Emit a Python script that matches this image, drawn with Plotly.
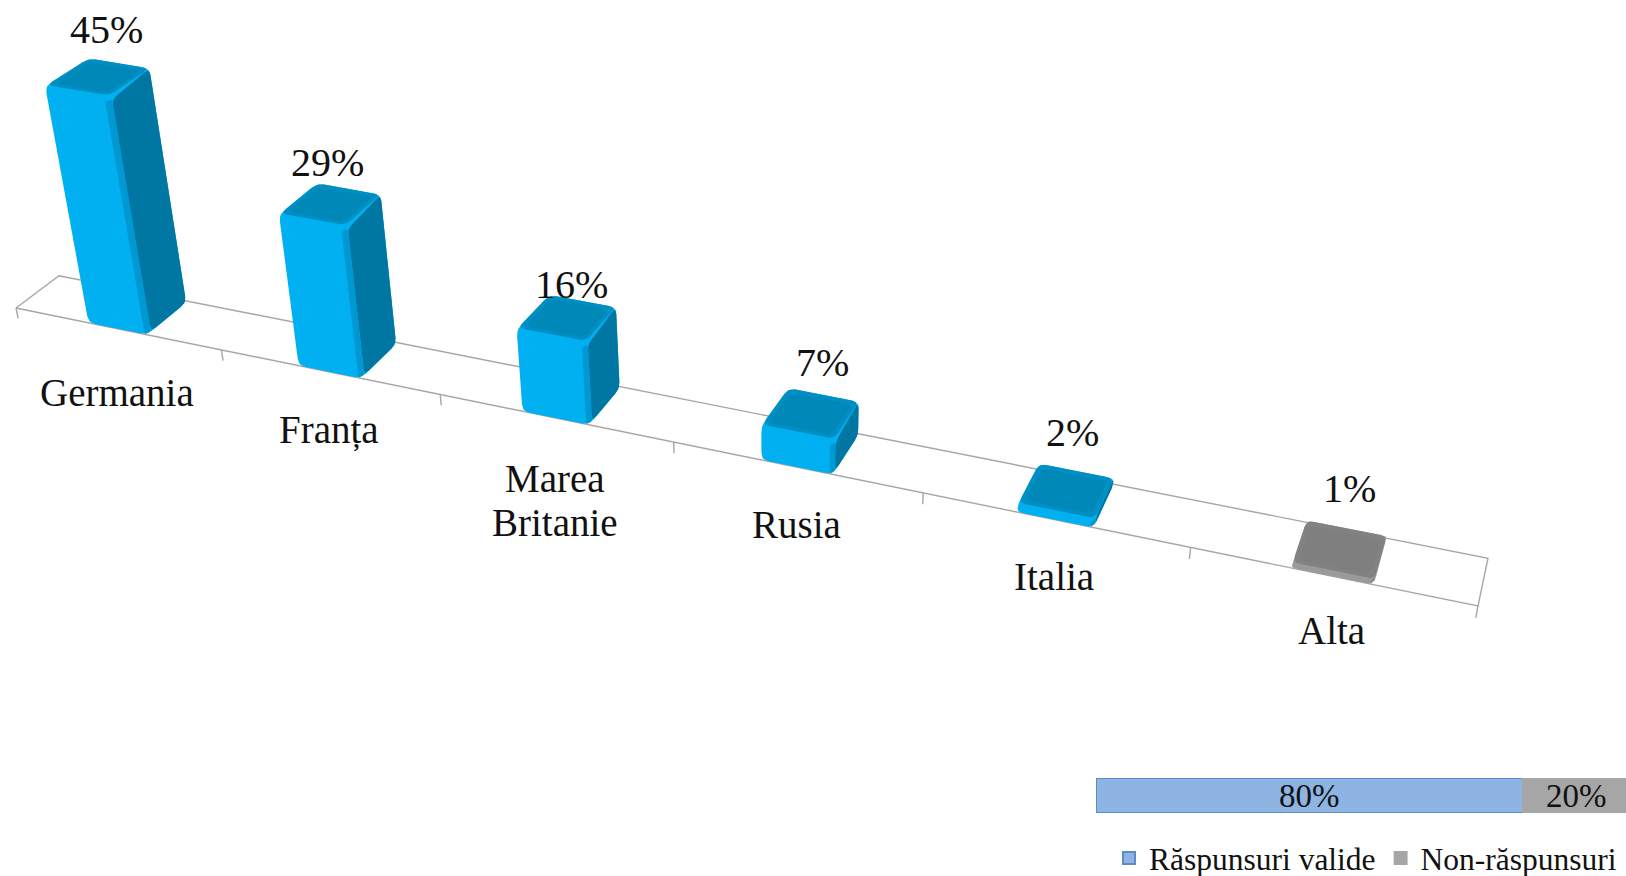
import numpy as np
import plotly.graph_objects as go

# ---------- data ----------
categories = ["Germania", "Franța", "Marea<br>Britanie", "Rusia", "Italia", "Alta"]
shares = [45, 29, 16, 7, 2, 1]
value_labels = ["45%", "29%", "16%", "7%", "2%", "1%"]
response_names = ["Răspunsuri valide", "Non-răspunsuri"]
response_shares = [80, 20]

# ---------- styles / layout ----------
FONT = "Liberation Serif"
W, H_PX = 1626, 876
BLUE = dict(front="#00B0F0", side="#0076A3", rim="#008FC3", top="#0088B9", edge="#0098D2")
GREY = dict(front="#9A9A9A", side="#6E6E6E", rim="#828282", top="#7F7F7F", edge="#8A8A8A")
palette = [BLUE, BLUE, BLUE, BLUE, BLUE, GREY]
CAT_POS = [(117, 392), (329, 430), (555, 500), (796, 524), (1054, 576), (1331, 630)]
VAL_POS = [(106, 29), (327, 162), (571, 284), (822, 362), (1072, 432), (1349, 488)]
LINE_GAP = 44

# perspective view of the chart's floor plane
FLOOR = [((0, 0), (16, 308)), ((6, 0), (1478, 606)), ((6, 1), (1488, 558.2)), ((0, 1), (59, 275.8))]
VZ = np.array([790.0, 4150.0, 1.0])
MU = 0.0013
U0, U1, V0, V1 = 0.36, 0.645, 0.0, 0.96


def homography(pairs):
    A, b = [], []
    for (u, v), (x, y) in pairs:
        A.append([u, v, 1, 0, 0, 0, -u * x, -v * x]); b.append(x)
        A.append([0, 0, 0, u, v, 1, -u * y, -v * y]); b.append(y)
    return np.append(np.linalg.solve(np.array(A, float), np.array(b, float)), 1).reshape(3, 3)


HOM = homography(FLOOR)


def project(u, v, z):
    p = HOM @ np.array([u, v, 1.0]) - MU * z * VZ
    return p[:2] / p[2]


def rounded(pts, r):
    pts = [np.asarray(p, float) for p in pts]
    n, out = len(pts), []
    for i in range(n):
        a, b, c = pts[i - 1], pts[i], pts[(i + 1) % n]
        la, lc = np.linalg.norm(a - b), np.linalg.norm(c - b)
        if la < 1e-6 or lc < 1e-6:
            out.append(b)
            continue
        ra = min(r, la * 0.45) / la
        rc = min(r, lc * 0.45) / lc
        s, e = b + (a - b) * ra, b + (c - b) * rc
        for t in np.linspace(0, 1, 6):
            out.append((1 - t) ** 2 * s + 2 * t * (1 - t) * b + t ** 2 * e)
    return np.array(out)


def hull(pts):
    pts = sorted(map(tuple, pts))
    def half(seq):
        h = []
        for p in seq:
            while len(h) >= 2 and (h[-1][0] - h[-2][0]) * (p[1] - h[-2][1]) - (h[-1][1] - h[-2][1]) * (p[0] - h[-2][0]) <= 0:
                h.pop()
            h.append(p)
        return h[:-1]
    return half(pts) + half(pts[::-1])


fig = go.Figure()


def poly(pts, color, r=5):
    xy = rounded(pts, r)
    x = np.append(xy[:, 0], xy[0, 0])
    y = np.append(xy[:, 1], xy[0, 1])
    fig.add_trace(go.Scatter(x=x, y=y, mode="lines", fill="toself", fillcolor=color,
                             line=dict(width=0, color=color), hoverinfo="skip", showlegend=False))


def rule(pts):
    fig.add_trace(go.Scatter(x=[p[0] for p in pts], y=[p[1] for p in pts], mode="lines",
                             line=dict(color="#A6A6A6", width=1.4), hoverinfo="skip", showlegend=False))


# floor frame and ticks
n = len(categories)
rule([project(0, 0, 0), project(n, 0, 0), project(n, 1, 0), project(0, 1, 0), project(0, 0, 0)])
for i in range(n + 1):
    rule([project(i, 0, 0), project(i, 0, -2.1)])

# bars
for i, (share, c) in enumerate(zip(shares, palette)):
    val = share - min(0.7, share * 0.3)  # the bevelled cap eats into the drawn height
    u0, u1 = i + U0, i + U1
    corners = [project(u, v, z) for u in (u0, u1) for v in (V0, V1) for z in (0, val)]
    poly(hull(corners), c["front"], 7)
    du = 0.012
    dv = 0.09
    dz = min(1.0, val * 0.22)
    # side
    poly([project(u1, V0 + dv, 0), project(u1, V1, 0), project(u1, V1, val), project(u1, V0 + dv, val - dz)], c["side"], 6)
    # front / side bevel
    poly([project(u1 - du, V0, 0), project(u1, V0 + dv, 0), project(u1, V0 + dv, val - dz), project(u1 - du, V0, val - dz)], c["edge"], 2)
    # top
    poly([project(u0, V0 + dv * 0.4, val), project(u1, V0 + dv * 0.4, val), project(u1, V1, val), project(u0, V1, val)], c["rim"], 7)
    poly([project(u0 + du * 1.5, V0 + dv * 1.2, val), project(u1 - du * 1.5, V0 + dv * 1.2, val),
          project(u1 - du * 1.5, V1 - dv, val), project(u0 + du * 1.5, V1 - dv, val)], c["top"], 7)

# response-rate bar with its labels
start = 0
for k, (name, val, col, line) in enumerate(zip(response_names, response_shares, ["#8EB4E3", "#A6A6A6"], ["#5B8CC8", "#A6A6A6"])):
    fig.add_trace(go.Bar(x=[val], y=[0], orientation="h", name=name, xaxis="x2", yaxis="y2",
                         marker=dict(color=col, line=dict(color=line, width=2)),
                         cliponaxis=(k == 1), hoverinfo="skip"))
    fig.add_annotation(x=start + val / 2, y=0, xref="x2", yref="y2", text=f"{val}%", showarrow=False,
                       font=dict(family=FONT, size=33, color="#111111"))
    start += val

# text labels
for (x, y), t in zip(CAT_POS, categories):
    lines = t.split("<br>")
    for j, part in enumerate(lines):
        fig.add_annotation(x=x, y=y + (j - (len(lines) - 1) / 2) * LINE_GAP, text=part, showarrow=False,
                           xref="x", yref="y", font=dict(family=FONT, size=39, color="#111111"))
for (x, y), t in zip(VAL_POS, value_labels):
    fig.add_annotation(x=x, y=y, text=t, showarrow=False, xref="x", yref="y",
                       font=dict(family=FONT, size=40, color="#111111"))

fig.update_layout(
    width=W, height=H_PX, margin=dict(l=0, r=0, t=0, b=0, autoexpand=False),
    paper_bgcolor="white", plot_bgcolor="white", barmode="stack", bargap=0,
    xaxis=dict(range=[0, W], visible=False, domain=[0, 1]),
    yaxis=dict(range=[H_PX, 0], visible=False, domain=[0, 1]),
    xaxis2=dict(range=[0, 99.3], visible=False, domain=[1096 / W, 1], anchor="y2"),
    yaxis2=dict(range=[-0.5, 0.5], visible=False, domain=[1 - 813 / H_PX, 1 - 778 / H_PX], anchor="x2"),
    legend=dict(orientation="h", x=1109 / W, y=1 - 858 / H_PX, xanchor="left", yanchor="middle",
                font=dict(family=FONT, size=31.5, color="#111111"), bgcolor="rgba(0,0,0,0)",
                traceorder="normal", itemclick=False, itemdoubleclick=False),
    showlegend=True,
)
fig.write_html("out.html", config=dict(displayModeBar=False),
               post_script="document.body.style.margin='0';document.documentElement.style.overflow='hidden';")
